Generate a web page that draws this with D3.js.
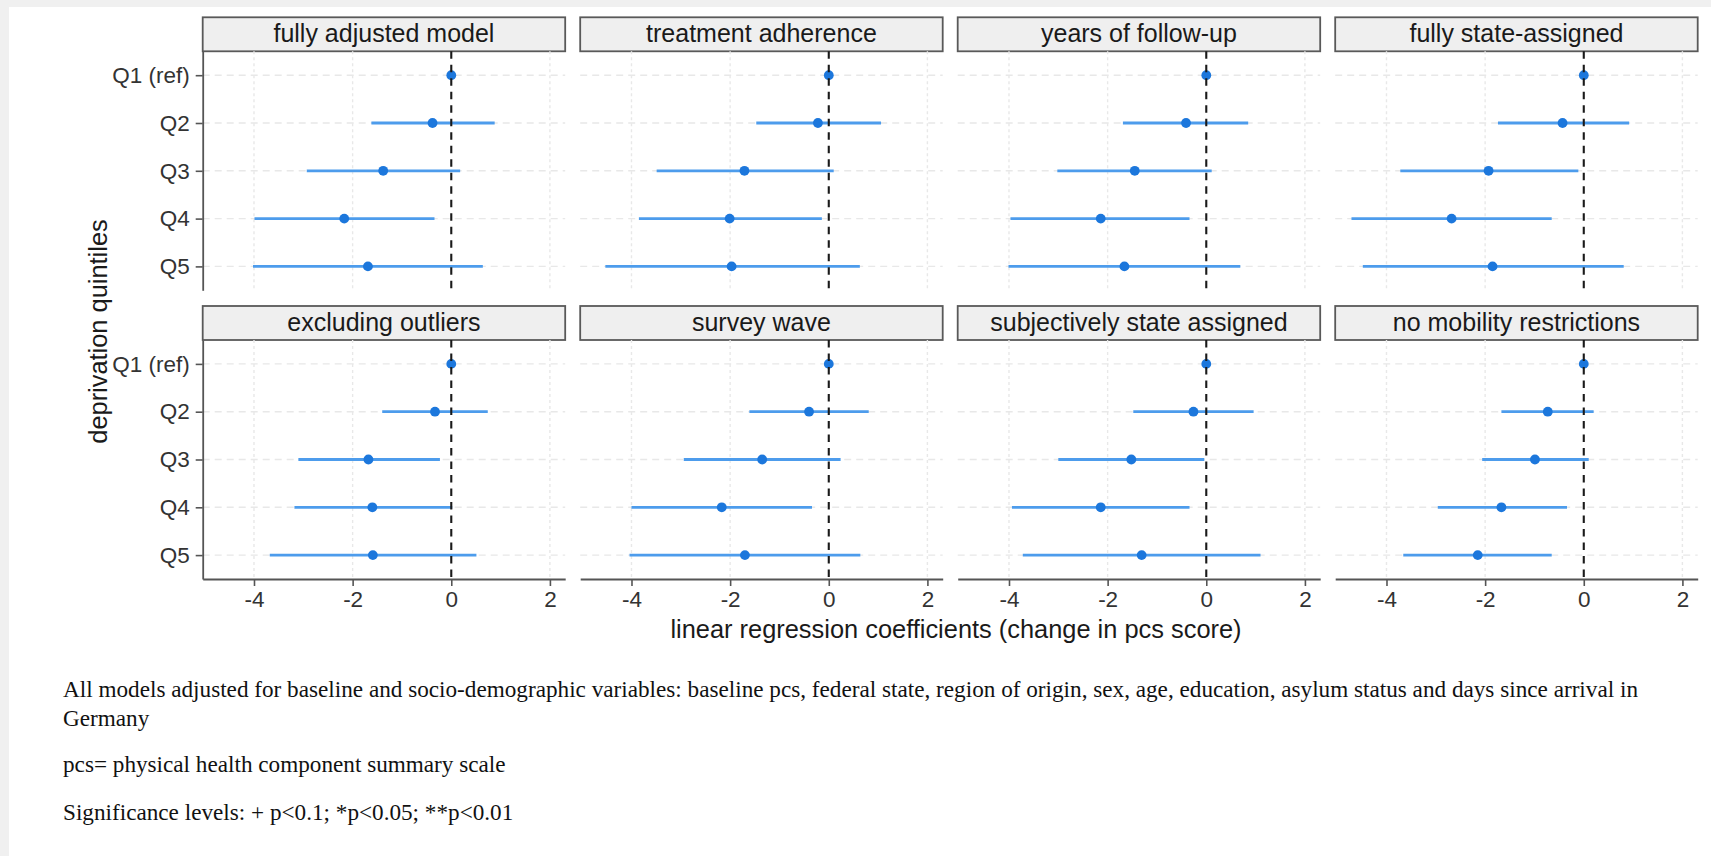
<!DOCTYPE html>
<html>
<head>
<meta charset="utf-8">
<script src="https://cdn.jsdelivr.net/npm/d3@7"></script>
<style>
    body { margin: 0; background: #f0f0f0; }
    svg { display: block; }
</style>
</head>
<body>
<svg id="chart" width="1711" height="856"></svg>
<script>
// Facet titles, in reading order (4 per row)
const panels = [
    'fully adjusted model', 'treatment adherence', 'years of follow-up', 'fully state-assigned',
    'excluding outliers', 'survey wave', 'subjectively state assigned', 'no mobility restrictions'
];

// Deprivation quintiles (y axis)
const quintiles = ['Q1 (ref)', 'Q2', 'Q3', 'Q4', 'Q5'];

// Point estimates per panel, one value per quintile
const estimate = [
    [0, -0.38, -1.38, -2.17, -1.69],
    [0, -0.22, -1.71, -2.01, -1.97],
    [0, -0.41, -1.45, -2.14, -1.66],
    [0, -0.43, -1.93, -2.68, -1.85],
    [0, -0.33, -1.68, -1.60, -1.59],
    [0, -0.40, -1.35, -2.17, -1.70],
    [0, -0.26, -1.52, -2.14, -1.31],
    [0, -0.73, -0.99, -1.67, -2.15]
];

// Lower confidence bound
const lower = [
    [0, -1.62, -2.93, -3.99, -4.02],
    [0, -1.47, -3.49, -3.85, -4.53],
    [0, -1.69, -3.02, -3.97, -4.01],
    [0, -1.74, -3.72, -4.71, -4.48],
    [0, -1.40, -3.10, -3.18, -3.68],
    [0, -1.61, -2.94, -4.00, -4.04],
    [0, -1.48, -3.00, -3.94, -3.72],
    [0, -1.67, -2.06, -2.96, -3.66]
];

// Upper confidence bound
const upper = [
    [0, 0.88, 0.18, -0.34, 0.64],
    [0, 1.06, 0.10, -0.14, 0.63],
    [0, 0.85, 0.11, -0.34, 0.69],
    [0, 0.92, -0.11, -0.65, 0.81],
    [0, 0.74, -0.23, 0.02, 0.51],
    [0, 0.81, 0.24, -0.34, 0.64],
    [0, 0.96, -0.04, -0.34, 1.10],
    [0, 0.20, 0.10, -0.34, -0.65]
];

// x axis ticks
const xTicks = [-4, -2, 0, 2];

// Footnote lines under the chart
const notes = [
    'All models adjusted for baseline and socio-demographic variables: baseline pcs, federal state, region of origin, sex, age, education, asylum status and days since arrival in',
    'Germany',
    'pcs= physical health component summary scale',
    'Significance levels: + p<0.1; *p<0.05; **p<0.01'
];

const sans = '"Liberation Sans", Arial, sans-serif';
const serif = '"Liberation Serif", "Times New Roman", serif';

// Layout
const panelLeft = 202.7;
const panelPitch = 377.5;
const panelW = 362.5;
const rowTops = [17.3, 306];
const stripH = 34;
const plotH = 239;

const svg = d3.select('#chart');

// white page area (thin grey frame on left/top like the screenshot)
svg.append('rect').attr('x', 9).attr('y', 7).attr('width', 1711 - 9).attr('height', 856 - 7).attr('fill', '#fff');

const x = d3.scaleLinear().domain([-5.04, 2.31]).range([0, panelW]);
const y = d3.scalePoint().domain(quintiles).range([0, plotH]).padding(0.5);

panels.forEach(function (title, i) {
    const col = i % 4;
    const row = Math.floor(i / 4);
    const g = svg.append('g')
        .attr('transform', `translate(${panelLeft + col * panelPitch},${rowTops[row]})`);

    // strip
    g.append('rect')
        .attr('x', 0).attr('y', 0).attr('width', panelW).attr('height', stripH)
        .attr('fill', '#efefef').attr('stroke', '#595959').attr('stroke-width', 1.8);
    g.append('text')
        .attr('x', panelW / 2).attr('y', 24.5)
        .attr('text-anchor', 'middle')
        .attr('font-family', sans).attr('font-size', 25).attr('fill', '#1a1a1a')
        .text(title);

    const p = g.append('g').attr('transform', `translate(0,${stripH})`);

    // grid
    p.selectAll('.vgrid').data(xTicks.filter(d => d !== 0)).enter().append('line')
        .attr('x1', d => x(d)).attr('x2', d => x(d))
        .attr('y1', 0).attr('y2', plotH)
        .attr('stroke', '#e8e8e8').attr('stroke-width', 1.4).attr('stroke-dasharray', '3,3');
    p.selectAll('.hgrid').data(quintiles).enter().append('line')
        .attr('x1', 0).attr('x2', panelW)
        .attr('y1', d => y(d)).attr('y2', d => y(d))
        .attr('stroke', '#e8e8e8').attr('stroke-width', 1.4).attr('stroke-dasharray', '7,5');

    const rows = quintiles.map((q, j) => ({ q: q, est: estimate[i][j], lo: lower[i][j], hi: upper[i][j] }));

    // confidence intervals
    p.selectAll('.ci').data(rows.filter(d => d.lo !== d.hi)).enter().append('line')
        .attr('x1', d => x(d.lo)).attr('x2', d => x(d.hi))
        .attr('y1', d => y(d.q)).attr('y2', d => y(d.q))
        .attr('stroke', '#4d9cec').attr('stroke-width', 2.8);

    // estimates
    p.selectAll('.pt').data(rows).enter().append('circle')
        .attr('cx', d => x(d.est)).attr('cy', d => y(d.q)).attr('r', 4.9)
        .attr('fill', '#1c77dc');

    // reference line at zero
    p.append('line')
        .attr('x1', x(0)).attr('x2', x(0)).attr('y1', 0).attr('y2', plotH)
        .attr('stroke', '#1a1a1a').attr('stroke-width', 2.1).attr('stroke-dasharray', '7.5,6');

    // y axis on first column only
    if (col === 0) {
        const ya = p.append('g')
            .call(d3.axisLeft(y).tickSize(7).tickSizeOuter(0).tickPadding(6));
        ya.select('.domain').attr('stroke', '#555').attr('stroke-width', 1.8);
        ya.selectAll('.tick line').attr('stroke', '#555').attr('stroke-width', 1.6);
        ya.selectAll('.tick text')
            .attr('font-family', sans).attr('font-size', 22.5).attr('fill', '#333');
    }

    // x axis on bottom row only
    if (row === 1) {
        const xa = p.append('g').attr('transform', `translate(0,${plotH})`)
            .call(d3.axisBottom(x).tickValues(xTicks).tickFormat(d3.format('d')).tickSize(7).tickPadding(5).tickSizeOuter(0));
        xa.select('.domain').attr('stroke', '#555').attr('stroke-width', 1.8);
        xa.selectAll('.tick line').attr('stroke', '#555').attr('stroke-width', 1.6);
        xa.selectAll('.tick text')
            .attr('font-family', sans).attr('font-size', 22.5).attr('fill', '#333')
            .text(d => d < 0 ? '-' + Math.abs(d) : d);
    }
});

// axis titles
svg.append('text')
    .attr('x', 956).attr('y', 638)
    .attr('text-anchor', 'middle')
    .attr('font-family', sans).attr('font-size', 25.4).attr('fill', '#1a1a1a')
    .text('linear regression coefficients (change in pcs score)');

svg.append('text')
    .attr('transform', 'translate(107,331.5) rotate(-90)')
    .attr('text-anchor', 'middle')
    .attr('font-family', sans).attr('font-size', 25.4).attr('fill', '#1a1a1a')
    .text('deprivation quintiles');

// footnotes
const noteY = [697, 726, 772, 820];
svg.selectAll('.note').data(notes).enter().append('text')
    .attr('x', 63).attr('y', (d, i) => noteY[i])
    .attr('font-family', serif).attr('font-size', 23.2).attr('fill', '#111')
    .text(d => d);
</script>
</body>
</html>
